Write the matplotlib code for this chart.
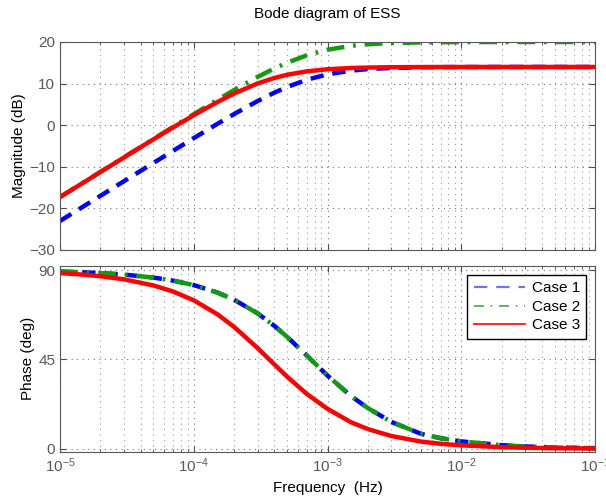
import numpy as np
import matplotlib
matplotlib.use("Agg")
import matplotlib.pyplot as plt
from matplotlib.lines import Line2D

plt.rcParams['font.family'] = ['Liberation Sans', 'DejaVu Sans']
plt.rcParams['mathtext.fontset'] = 'custom'
plt.rcParams['mathtext.rm'] = 'Liberation Sans'
plt.rcParams['mathtext.it'] = 'Liberation Sans:italic'

# frequency points (Hz)
freq = [1e-5, 1.5e-5, 2e-5, 3e-5, 5e-5, 7e-5, 1e-4, 1.5e-4, 2e-4, 3e-4, 4e-4, 5e-4,
        7e-4, 1e-3, 1.5e-3, 2e-3, 3e-3, 5e-3, 7e-3, 1e-2, 2e-2, 3e-2, 5e-2, 1e-1]

# magnitude (dB)
mag_case1 = [-23.03, -19.51, -17.01, -13.49, -9.07, -6.17, -3.11, 0.31, 2.66, 5.80, 7.82, 9.20,
             10.93, 12.22, 13.12, 13.49, 13.76, 13.91, 13.96, 13.98, 13.995, 13.998, 14.0, 14.0]
mag_case2 = [-17.27, -13.75, -11.25, -7.73, -3.31, -0.40, 2.65, 6.08, 8.44, 11.60, 13.64, 15.04,
             16.80, 18.14, 19.08, 19.46, 19.75, 19.90, 19.95, 19.97, 19.99, 20.0, 20.0, 20.0]
mag_case3 = [-17.30, -13.78, -11.29, -7.78, -3.39, -0.55, 2.40, 5.56, 7.60, 10.03, 11.35, 12.13,
             12.94, 13.45, 13.75, 13.855, 13.935, 13.976, 13.988, 13.994, 13.999, 14.0, 14.0, 14.0]

# phase (deg)
phase_case1 = [89.24, 88.85, 88.47, 87.71, 86.19, 84.67, 82.41, 78.69, 75.07, 68.20, 61.93, 56.31,
               46.97, 36.87, 26.57, 20.56, 13.6, 7.6, 5.4, 3.8, 1.9, 1.25, 0.75, 0.4]
phase_case2 = [89.24, 88.85, 88.47, 87.71, 86.19, 84.67, 82.41, 78.69, 75.07, 68.20, 61.93, 56.31,
               46.97, 36.87, 26.57, 20.56, 13.6, 7.6, 5.4, 3.8, 1.9, 1.25, 0.75, 0.4]
phase_case3 = [88.44, 87.66, 86.88, 85.33, 82.24, 79.20, 74.76, 67.77, 61.41, 50.74, 42.54, 36.28,
               27.67, 20.15, 13.4, 10.0, 6.5, 3.7, 2.6, 1.8, 0.9, 0.6, 0.35, 0.2]

labels = ['Case 1', 'Case 2', 'Case 3']

c_blue = '#0000ff'
c_green = '#129a12'
c_red = '#ff0000'


def style_axes(ax):
    ax.set_xscale('log')
    ax.set_xlim(1e-5, 1e-1)
    ax.grid(True, which='major', ls=(0, (1, 4)), color='0.45', lw=0.8)
    ax.grid(True, which='minor', axis='x', ls=(0, (1, 4)), color='0.6', lw=0.8)
    ax.tick_params(which='both', direction='in', top=True, right=True,
                   colors='0.3', labelcolor='0.35', labelsize=11)
    ax.tick_params(which='major', length=4)
    ax.tick_params(which='minor', length=2)
    for s in ax.spines.values():
        s.set_color('0.35')
        s.set_linewidth(0.8)


fig = plt.figure(figsize=(6.06, 4.97), dpi=100)
ax1 = fig.add_axes([0.099, 0.497, 0.883, 0.4185])
ax2 = fig.add_axes([0.099, 0.0915, 0.883, 0.3732])

# Magnitude
ax1.plot(freq, mag_case1, color=c_blue, ls=(0, (3, 2)), lw=3.2)
ax1.plot(freq, mag_case2, color=c_green, ls=(0, (4, 2, 0.6, 2)), lw=3.2)
ax1.plot(freq, mag_case3, color=c_red, ls='-', lw=3.2)
ax1.set_ylim(-30, 20)
ax1.set_yticks([-30, -20, -10, 0, 10, 20])
style_axes(ax1)
ax1.tick_params(labelbottom=False)
ax1.set_ylabel('Magnitude (dB)', fontsize=11, labelpad=2)
ax1.set_title('Bode diagram of ESS', fontsize=11, pad=17)

# Phase
ax2.plot(freq, phase_case1, color=c_blue, ls=(0, (3, 2)), lw=3.2)
ax2.plot(freq, phase_case2, color=c_green, ls=(0, (4, 2, 0.6, 2)), lw=3.2)
ax2.plot(freq, phase_case3, color=c_red, ls='-', lw=3.2)
ax2.set_ylim(-1.3, 92)
ax2.set_yticks([0, 45, 90])
style_axes(ax2)
ax2.set_ylabel('Phase (deg)', fontsize=11, labelpad=2)
ax2.set_xlabel('Frequency  (Hz)', fontsize=11)

handles = [
    Line2D([], [], color='#7070ff', ls=(0, (6, 4)), lw=1.6),
    Line2D([], [], color='#40b040', ls=(0, (6, 4, 1, 4)), lw=1.2),
    Line2D([], [], color=c_red, ls='-', lw=1.2),
]
leg = ax2.legend(handles, labels, loc='upper right', fontsize=11, frameon=True,
                 fancybox=False, edgecolor='black', framealpha=1,
                 borderaxespad=0.6, handlelength=3.4, labelspacing=0.3,
                 borderpad=0.4, handletextpad=0.4)
leg.get_frame().set_linewidth(1.0)

fig.savefig('out.png', dpi=100)
